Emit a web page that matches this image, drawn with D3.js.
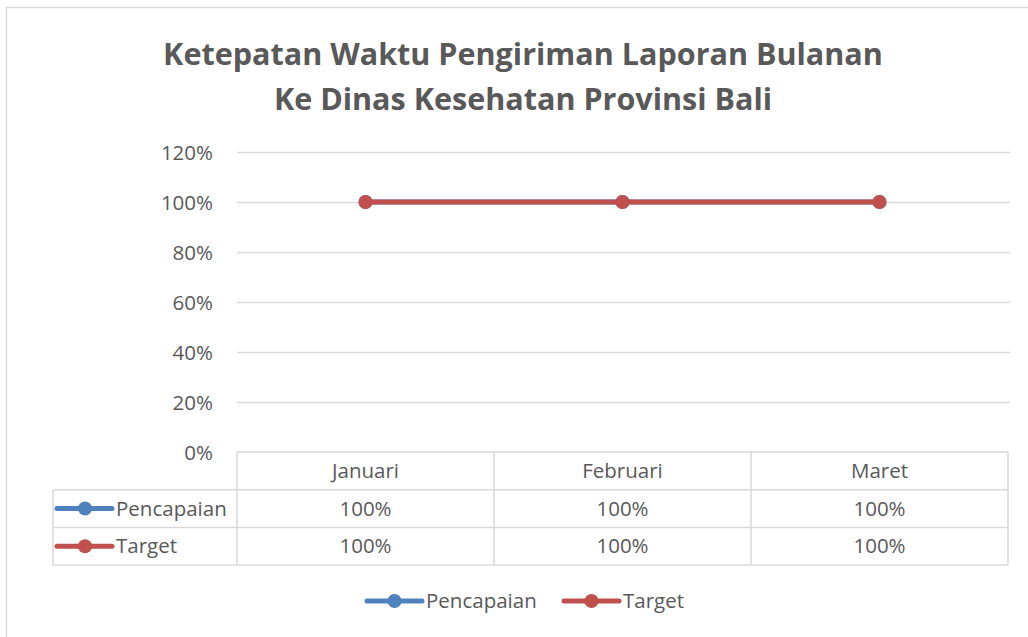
<!DOCTYPE html>
<html><head><meta charset="utf-8">
<script src="https://cdn.jsdelivr.net/npm/d3@7"></script>
<style>body{margin:0;background:#fff}svg{display:block}text{font-family:"Open Sans","Noto Sans",sans-serif;fill:#595959}</style>
</head><body><svg id="c" width="1028" height="637"></svg>
<script>
const titleLines = ["Ketepatan Waktu Pengiriman Laporan Bulanan", "Ke Dinas Kesehatan Provinsi Bali"];
const categories = ["Januari", "Februari", "Maret"];
const seriesNames = ["Pencapaian", "Target"];
const pencapaian = [1.0, 1.0, 1.0];
const target = [1.0, 1.0, 1.0];
const yTicks = [0, 0.2, 0.4, 0.6, 0.8, 1.0, 1.2];
const colors = ["#4F81BD", "#C0504D"];

const series = [
  {name: seriesNames[0], values: pencapaian, color: colors[0]},
  {name: seriesNames[1], values: target, color: colors[1]}
];

const svg = d3.select("#c");
const W = 1028, H = 637;
const plot = {left: 237, right: 1008, top: 152, bottom: 452};
const fmt = d3.format(".0%");
const FS = 20.5;

// outer chart border
svg.append("rect").attr("x", 6.5).attr("y", 7.5).attr("width", W + 10).attr("height", H + 10)
  .attr("fill", "#fff").attr("stroke", "#d9d9d9").attr("stroke-width", 1.5);

// title
const tl = svg.append("g").selectAll("text").data(titleLines).join("text")
  .attr("x", 523).attr("y", (d, i) => 65 + i * 45)
  .attr("text-anchor", "middle").attr("font-weight", "bold")
  .attr("font-size", 30).text(d => d);
const w0 = tl.node().getComputedTextLength();
tl.attr("font-size", 30 * 720 / w0);

const x = d3.scaleBand().domain(categories).range([plot.left, plot.right]);
const y = d3.scaleLinear().domain([0, 1.2]).range([plot.bottom, plot.top]);

// gridlines + tick labels
const yAxis = d3.axisLeft(y).tickValues(yTicks).tickFormat(fmt).tickSize(-(1010 - plot.left)).tickPadding(24);
const ga = svg.append("g").attr("transform", `translate(${plot.left},0)`).call(yAxis);
ga.select(".domain").remove();
ga.selectAll(".tick line").attr("stroke", "#d9d9d9").attr("stroke-width", 1.3);
ga.selectAll(".tick text").attr("font-size", FS).attr("fill", "#595959")
  .attr("font-family", '"Open Sans","Noto Sans",sans-serif').attr("dy", "0.35em");
ga.selectAll(".tick").filter(d => d === 0).select("line").remove();

// lines
const line = d3.line().x((d, i) => x(categories[i]) + x.bandwidth() / 2).y(d => y(d));
series.forEach(s => {
  const g = svg.append("g");
  g.append("path").datum(s.values).attr("d", line).attr("fill", "none")
    .attr("stroke", s.color).attr("stroke-width", 5).attr("stroke-linecap", "round");
  g.selectAll("circle").data(s.values).join("circle")
    .attr("cx", (d, i) => x(categories[i]) + x.bandwidth() / 2).attr("cy", d => y(d))
    .attr("r", 7).attr("fill", s.color);
});

// data table
const rowH = 37.7;
const rows = [plot.bottom, plot.bottom + rowH, plot.bottom + 2 * rowH, plot.bottom + 3 * rowH];
const tg = svg.append("g").attr("stroke", "#d9d9d9").attr("stroke-width", 1.5);
const tLeft = 53;
tg.append("line").attr("x1", plot.left).attr("x2", plot.right).attr("y1", rows[0]).attr("y2", rows[0]);
[1, 2, 3].forEach(r => tg.append("line").attr("x1", tLeft).attr("x2", plot.right).attr("y1", rows[r]).attr("y2", rows[r]));
categories.forEach(c => tg.append("line").attr("x1", x(c)).attr("x2", x(c)).attr("y1", rows[0]).attr("y2", rows[3]));
tg.append("line").attr("x1", plot.right).attr("x2", plot.right).attr("y1", rows[0]).attr("y2", rows[3]);
tg.append("line").attr("x1", tLeft).attr("x2", tLeft).attr("y1", rows[1]).attr("y2", rows[3]);

svg.selectAll(".cat").data(categories).join("text").attr("class", "cat")
  .attr("x", d => x(d) + x.bandwidth() / 2).attr("y", (rows[0] + rows[1]) / 2).attr("dy", "0.35em")
  .attr("text-anchor", "middle").attr("font-size", FS).text(d => d);

series.forEach((s, si) => {
  const cy = (rows[si + 1] + rows[si + 2]) / 2;
  svg.selectAll(".v" + si).data(s.values).join("text")
    .attr("x", (d, i) => x(categories[i]) + x.bandwidth() / 2).attr("y", cy).attr("dy", "0.35em")
    .attr("text-anchor", "middle").attr("font-size", FS).text(d => fmt(d));
  svg.append("line").attr("x1", 57).attr("x2", 112).attr("y1", cy).attr("y2", cy)
    .attr("stroke", s.color).attr("stroke-width", 5).attr("stroke-linecap", "round");
  svg.append("circle").attr("cx", 85).attr("cy", cy).attr("r", 7).attr("fill", s.color);
  svg.append("text").attr("x", 116).attr("y", cy).attr("dy", "0.35em").attr("font-size", FS).text(s.name);
});

// bottom legend
const legX = [367, 564];
series.forEach((s, i) => {
  const ly = 601;
  svg.append("line").attr("x1", legX[i]).attr("x2", legX[i] + 55).attr("y1", ly).attr("y2", ly)
    .attr("stroke", s.color).attr("stroke-width", 5).attr("stroke-linecap", "round");
  svg.append("circle").attr("cx", legX[i] + 27.5).attr("cy", ly).attr("r", 7).attr("fill", s.color);
  svg.append("text").attr("x", legX[i] + 59).attr("y", ly).attr("dy", "0.35em").attr("font-size", FS).text(s.name);
});
</script></body></html>
